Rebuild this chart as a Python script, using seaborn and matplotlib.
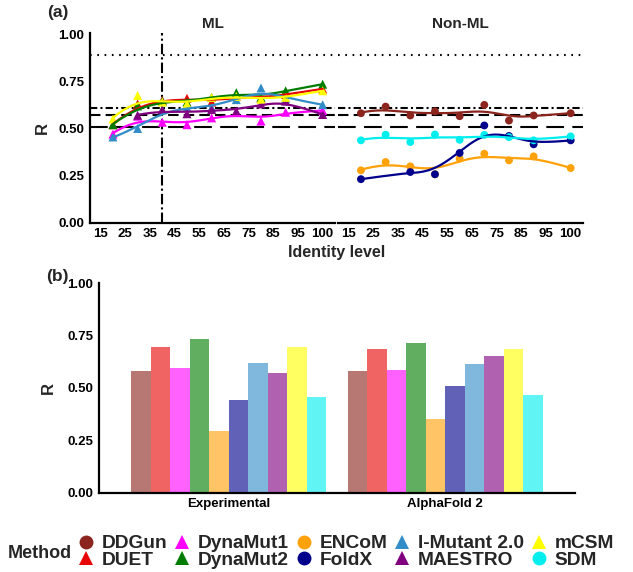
import numpy as np
import pandas as pd
import matplotlib
matplotlib.use('Agg')
import matplotlib.pyplot as plt
from matplotlib.lines import Line2D
import seaborn as sns

sns.set_theme(style='white')
plt.rcParams['font.family'] = ['Liberation Sans', 'DejaVu Sans']
plt.rcParams['font.weight'] = 'bold'

# x axis of panel (a)
identity = [20, 30, 40, 50, 60, 70, 80, 90, 100]
tick_levels = [15, 25, 35, 45, 55, 65, 75, 85, 95, 100]
tick_labels = ['15', '25', '35', '45', '55', '65', '75', '85', '95', '100']

# ML methods (triangles), R per identity level
duet = [0.52, 0.63, 0.65, 0.66, 0.64, 0.67, 0.66, 0.68, 0.71]
dynamut1 = [0.47, 0.565, 0.533, 0.52, 0.556, 0.586, 0.539, 0.586, 0.595]
dynamut2 = [0.52, 0.62, 0.645, 0.64, 0.665, 0.69, 0.665, 0.70, 0.735]
imutant = [0.455, 0.50, 0.60, 0.61, 0.61, 0.653, 0.715, 0.66, 0.626]
maestro = [np.nan, 0.57, 0.60, 0.578, 0.60, 0.592, 0.63, 0.645, 0.574]
mcsm = [0.55, 0.675, 0.64, 0.63, 0.665, 0.67, 0.655, 0.665, 0.70]

# Non-ML methods (circles)
ddgun = [0.581, 0.616, 0.569, 0.591, 0.565, 0.625, 0.542, 0.569, 0.581]
encom = [0.278, 0.322, 0.299, 0.257, 0.34, 0.366, 0.331, 0.352, 0.29]
foldx = [0.231, np.nan, 0.269, 0.257, 0.37, 0.516, 0.46, 0.416, 0.437]
sdm = [0.437, 0.467, 0.428, 0.468, 0.44, 0.466, 0.454, 0.437, 0.458]

# reference lines in panel (a)
ref_dotted = 0.89
ref_dashdot = 0.61
ref_dashed = 0.57
ref_longdash = 0.51
cutoff_level = 40

# panel (b)
structures = ['Experimental', 'AlphaFold 2']
methods = ['DDGun', 'DUET', 'DynaMut1', 'DynaMut2', 'ENCoM', 'FoldX',
           'I-Mutant 2.0', 'MAESTRO', 'mCSM', 'SDM']
r_experimental = [0.580, 0.694, 0.594, 0.734, 0.293, 0.441, 0.618, 0.573, 0.696, 0.457]
r_alphafold = [0.581, 0.688, 0.584, 0.717, 0.354, 0.510, 0.616, 0.653, 0.685, 0.465]

colors = {
    'DDGun': '#8B251E', 'DUET': '#E80505', 'DynaMut1': '#FF00FF',
    'DynaMut2': '#007C00', 'ENCoM': '#FFA108', 'FoldX': '#00008B',
    'I-Mutant 2.0': '#328CC7', 'MAESTRO': '#800080', 'mCSM': '#FFFF00',
    'SDM': '#00EEEE',
}
ml_methods = {'DUET': duet, 'DynaMut1': dynamut1, 'DynaMut2': dynamut2,
              'I-Mutant 2.0': imutant, 'MAESTRO': maestro, 'mCSM': mcsm}
nonml_methods = {'DDGun': ddgun, 'ENCoM': encom, 'FoldX': foldx, 'SDM': sdm}


def axis_pos(level):
    # the reference places "100" one and a half steps after 90
    level = np.asarray(level, dtype=float)
    return np.where(level >= 100, level + 5, level)


def smooth(x, y, h=8.5):
    """local linear gaussian smoother, like a loess curve"""
    x = np.asarray(x, float)
    y = np.asarray(y, float)
    ok = ~np.isnan(y)
    x, y = x[ok], y[ok]
    grid = np.linspace(x.min(), x.max(), 200)
    out = []
    for g in grid:
        w = np.exp(-0.5 * ((x - g) / h) ** 2)
        X = np.vstack([np.ones_like(x), x - g]).T
        W = np.diag(w)
        beta = np.linalg.solve(X.T @ W @ X, X.T @ W @ y)
        out.append(beta[0])
    return grid, np.array(out)


def long_table(series):
    rows = []
    for name, vals in series.items():
        for lvl, v in zip(identity, vals):
            if not np.isnan(v):
                rows.append({'method': name, 'pos': float(axis_pos(lvl)), 'R': v})
    return pd.DataFrame(rows)


def curve_table(series):
    rows = []
    for name, vals in series.items():
        gx, gy = smooth(axis_pos(identity), vals)
        rows.append(pd.DataFrame({'method': name, 'pos': gx, 'R': gy}))
    return pd.concat(rows, ignore_index=True)


fig = plt.figure(figsize=(6.33, 5.72), dpi=100)
W, H = 633, 572


def add_axes(x0, y0, x1, y1):
    return fig.add_axes([x0 / W, 1 - y1 / H, (x1 - x0) / W, (y1 - y0) / H])


ax_ml = add_axes(90, 33.3, 335, 222.7)
ax_non = add_axes(338, 33.3, 583, 222.7)
ax_b = add_axes(99, 283.3, 575, 492.7)

tick_font = dict(fontsize=9.5, fontweight='bold')

for ax, series, marker, title in [(ax_ml, ml_methods, '^', 'ML'),
                                  (ax_non, nonml_methods, 'o', 'Non-ML')]:
    pts = long_table(series)
    crv = curve_table(series)
    pal = {m: colors[m] for m in series}
    sns.scatterplot(data=pts, x='pos', y='R', hue='method', palette=pal,
                    marker=marker, s=42 if marker == '^' else 32,
                    linewidth=0, legend=False, ax=ax, zorder=3)
    sns.lineplot(data=crv, x='pos', y='R', hue='method', palette=pal,
                 linewidth=1.6, estimator=None, sort=True, legend=False,
                 ax=ax, zorder=4)
    ax.axhline(ref_dotted, color='black', lw=1.5, dashes=(0.8, 2.7), zorder=2)
    ax.axhline(ref_dashdot, color='black', lw=1.5, dashes=(3.5, 1.5, 1, 1.5), zorder=2)
    ax.axhline(ref_dashed, color='black', lw=1.5, dashes=(5, 2.5), zorder=2)
    ax.axhline(ref_longdash, color='black', lw=1.5, dashes=(8.5, 4), zorder=2)
    ax.set_xlim(10.7, 110)
    ax.set_ylim(0, 1.005)
    ax.set_xticks(axis_pos(tick_levels))
    ax.set_xticklabels(tick_labels, **tick_font)
    ax.set_title(title, fontsize=11, fontweight='bold', pad=4)
    ax.set_xlabel('')
    ax.set_ylabel('')
    for s in ['top', 'right']:
        ax.spines[s].set_visible(False)
    ax.spines['bottom'].set_linewidth(1.6)
    ax.spines['bottom'].set_color('black')
    ax.tick_params(axis='x', length=2, width=1, pad=2, colors='black')

ax_ml.axvline(cutoff_level, color='black', lw=1.5, dashes=(5, 1.5, 1, 1.5), zorder=2)
ax_ml.set_yticks([0, 0.25, 0.5, 0.75, 1.0])
ax_ml.set_yticklabels(['0.00', '0.25', '0.50', '0.75', '1.00'], **tick_font)
ax_ml.spines['left'].set_linewidth(1.6)
ax_ml.spines['left'].set_color('black')
ax_ml.tick_params(axis='y', length=2, width=1, pad=2, colors='black')
ax_ml.set_ylabel('R', fontsize=12, fontweight='bold', labelpad=6)

ax_non.spines['left'].set_visible(False)
ax_non.set_yticks([])

fig.text((90 + 583) / 2 / W, 1 - 253 / H, 'Identity level', ha='center',
         va='center', fontsize=11.5, fontweight='bold')
fig.text(47 / W, 1 - 13 / H, '(a)', ha='left', va='center', fontsize=12.5,
         fontweight='bold')
fig.text(46 / W, 1 - 276 / H, '(b)', ha='left', va='center', fontsize=12.5,
         fontweight='bold')

# panel (b) bars
bars = pd.DataFrame({
    'structure': np.repeat(structures, len(methods)),
    'method': methods * 2,
    'R': r_experimental + r_alphafold,
})
sns.barplot(data=bars, x='structure', y='R', hue='method', hue_order=methods,
            order=structures, palette=colors, width=0.9, gap=0, alpha=0.62,
            saturation=1, linewidth=0, legend=False, ax=ax_b)
ax_b.set_xlim(-0.6, 1.6)
ax_b.set_ylim(0, 1.0)
ax_b.set_yticks([0, 0.25, 0.5, 0.75, 1.0])
ax_b.set_yticklabels(['0.00', '0.25', '0.50', '0.75', '1.00'], **tick_font)
ax_b.set_xticks([0, 1])
ax_b.set_xticklabels(structures, **tick_font)
ax_b.set_xlabel('')
ax_b.set_ylabel('R', fontsize=12, fontweight='bold', labelpad=8)
for s in ['top', 'right']:
    ax_b.spines[s].set_visible(False)
for s in ['left', 'bottom']:
    ax_b.spines[s].set_linewidth(1.6)
    ax_b.spines[s].set_color('black')
ax_b.tick_params(length=2, width=1, pad=2, colors='black')

# legend
handles = []
for m in methods:
    mk = 'o' if m in nonml_methods else '^'
    handles.append(Line2D([], [], linestyle='none', marker=mk, markersize=10,
                          markerfacecolor=colors[m], markeredgewidth=0))
fig.text(8 / W, 1 - 554 / H, 'Method', ha='left', va='center', fontsize=13,
         fontweight='bold')
fig.legend(handles, methods, ncol=5, loc='center left',
           bbox_to_anchor=(76 / W, 1 - 552 / H), frameon=False,
           prop=dict(weight='bold', size=13.8), handletextpad=0.32,
           columnspacing=0.28, labelspacing=-0.05, handlelength=1.0,
           borderaxespad=0, borderpad=0)

fig.savefig('out.png', dpi=100)
